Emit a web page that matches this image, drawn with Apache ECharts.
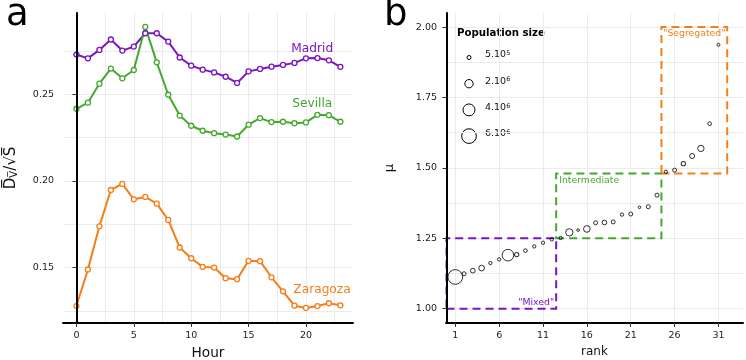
<!DOCTYPE html>
<html>
<head>
<meta charset="utf-8">
<script src="https://cdn.jsdelivr.net/npm/echarts@6/dist/echarts.min.js"></script>
<style>
  html, body { margin: 0; background: #fff; }
  #chart { width: 746px; height: 360px; }
</style>
</head>
<body>
<div id="chart"></div>
<script>
// panel a: hourly values per city
const hours = [0, 1, 2, 3, 4, 5, 6, 7, 8, 9, 10, 11, 12, 13, 14, 15, 16, 17, 18, 19, 20, 21, 22, 23]
const madrid = [0.2730, 0.2708, 0.2757, 0.2817, 0.2753, 0.2776, 0.2853, 0.2853, 0.2805, 0.2713, 0.2666, 0.2643,
  0.2627, 0.2602, 0.2566, 0.2633, 0.2647, 0.2660, 0.2670, 0.2682, 0.2708, 0.2710, 0.2697, 0.2659]
const sevilla = [0.2417, 0.2452, 0.2562, 0.2649, 0.2593, 0.2641, 0.2890, 0.2685, 0.2498, 0.2378, 0.2319, 0.2290,
  0.2276, 0.2268, 0.2257, 0.2325, 0.2363, 0.2340, 0.2342, 0.2334, 0.2338, 0.2382, 0.2380, 0.2342]
const zaragoza = [0.1278, 0.1489, 0.1738, 0.1948, 0.1983, 0.1894, 0.1908, 0.1869, 0.1775, 0.1616, 0.1554, 0.1504,
  0.1500, 0.1439, 0.1433, 0.1539, 0.1537, 0.1444, 0.1363, 0.1280, 0.1267, 0.1278, 0.1294, 0.1282]
const hourTicks = [0, 5, 10, 15, 20]
const hourGrid = [0, 2.5, 5, 7.5, 10, 12.5, 15, 17.5, 20, 22.5]
const dvTicks = [0.15, 0.2, 0.25]
const dvGrid = [0.125, 0.15, 0.175, 0.2, 0.225, 0.25, 0.275]

// panel b: ranked cities
const ranks = [1, 2, 3, 4, 5, 6, 7, 8, 9, 10, 11, 12, 13, 14, 15, 16, 17, 18, 19, 20, 21, 22, 23, 24, 25, 26, 27, 28, 29, 30, 31]
const mu = [1.1125, 1.124, 1.135, 1.144, 1.162, 1.175, 1.190, 1.192, 1.206, 1.221, 1.234, 1.246, 1.251, 1.271, 1.279, 1.283,
  1.305, 1.306, 1.308, 1.334, 1.336, 1.360, 1.362, 1.403, 1.486, 1.492, 1.515, 1.542, 1.569, 1.657, 1.937]
const population = [6.0e6, 5.0e5, 6.7e5, 9.7e5, 3.6e5, 3.6e5, 3.8e6, 5.7e5, 4.3e5, 3.6e5, 3.6e5, 3.6e5, 3.6e5, 1.56e6, 2.4e5, 1.3e6,
  5.0e5, 6.7e5, 5.0e5, 3.6e5, 5.0e5, 2.4e5, 5.0e5, 5.0e5, 3.6e5, 5.0e5, 5.7e5, 7.5e5, 1.18e6, 4.3e5, 3.0e5]
const legendPop = [5e5, 2e6, 4e6, 6e6]
const legendBase = ['5.10', '2.10', '4.10', '6.10']
const legendExp = ['5', '6', '6', '6']
const rankTicks = [1, 6, 11, 16, 21, 26, 31]
const muTicks = [1, 1.25, 1.5, 1.75, 2]
const muGrid = [1, 1.125, 1.25, 1.375, 1.5, 1.625, 1.75, 1.875, 2]
// regime boxes: rank span, mu span
const regimeNames = ['"Mixed"', 'Intermediate', '"Segregated"']
const regimeRank = [[0, 12.5], [12.5, 24.5], [24.5, 32]]
const regimeMu = [[1, 1.25], [1.25, 1.48], [1.48, 2]]

const PURPLE = '#7a14c4'
const GREEN = '#45a82f'
const ORANGE = '#f57e17'
const FONT = 'DejaVu Sans'
const TICK_FONT = 9.5

// ggplot-like area scaling of the circles
const sizeOf = p => 0.00614 * Math.sqrt(p) - 0.34

const chart = echarts.init(document.getElementById('chart'))

const mainAxis = (extra) => Object.assign({
  type: 'value',
  z: 5,
  axisLine: { show: true, lineStyle: { color: '#000', width: 2 } },
  splitLine: { show: false },
  nameTextStyle: { color: '#111', fontFamily: FONT }
}, extra)

const ticks = (values) => ({ show: true, length: 4, lineStyle: { color: '#333' }, customValues: values })
const labels = (values, margin, fmt) => ({
  color: '#222', fontSize: TICK_FONT, fontFamily: FONT, margin, customValues: values, formatter: fmt
})

const gridAxis = (extra) => Object.assign({
  type: 'value',
  z: 0,
  axisLine: { show: false },
  axisLabel: { show: false },
  splitLine: { show: true, lineStyle: { color: '#ebebeb', width: 1 } }
}, extra)

const citySeries = (name, values, color, labelAt) => ({
  name,
  type: 'line',
  xAxisIndex: 0,
  yAxisIndex: 0,
  data: hours.map((h, i) => [h, values[i]]),
  symbol: 'circle',
  symbolSize: 5,
  lineStyle: { color, width: 2 },
  itemStyle: { color: '#fff', borderColor: color, borderWidth: 1.3 },
  z: 3,
  markPoint: {
    silent: true,
    symbol: 'circle',
    symbolSize: 0,
    label: { show: true, formatter: name, color, fontSize: 12.2, fontFamily: FONT },
    data: [{ coord: labelAt }]
  }
})

const option = {
  backgroundColor: '#fff',
  animation: false,
  title: [
    { text: 'a', left: 1, top: -8, textStyle: { fontSize: 37, fontWeight: 'normal', color: '#000', fontFamily: FONT } },
    { text: 'b', left: 379, top: -8, textStyle: { fontSize: 37, fontWeight: 'normal', color: '#000', fontFamily: FONT } }
  ],
  grid: [
    { left: 63, top: 13, width: 290, height: 310, containLabel: false, outerBoundsMode: 'none' },
    { left: 446, top: 13, width: 297, height: 310, containLabel: false, outerBoundsMode: 'none' }
  ],
  xAxis: [
    mainAxis({
      gridIndex: 0, min: -1.17, max: 24.1,
      axisTick: ticks(hourTicks),
      axisLabel: labels(hourTicks, 8),
      name: 'Hour', nameLocation: 'middle', nameGap: 23,
      nameTextStyle: { color: '#111', fontSize: 13.7, fontFamily: FONT }
    }),
    gridAxis({ gridIndex: 0, min: -1.17, max: 24.1, axisTick: { show: false, customValues: hourGrid } }),
    mainAxis({
      gridIndex: 1, min: -0.06, max: 33.8,
      axisTick: ticks(rankTicks),
      axisLabel: labels(rankTicks, 8),
      name: 'rank', nameLocation: 'middle', nameGap: 23,
      nameTextStyle: { color: '#111', fontSize: 12, fontFamily: FONT }
    }),
    gridAxis({ gridIndex: 1, min: -0.06, max: 33.8, axisTick: { show: false, customValues: rankTicks } })
  ],
  yAxis: [
    mainAxis({
      gridIndex: 0, min: 0.118, max: 0.297,
      axisTick: ticks(dvTicks),
      axisLabel: labels(dvTicks, 9, v => v.toFixed(2)),
      name: '{d|D\u0305}{s|V\u0305}{d|/\u221AS\u0305}', nameLocation: 'middle', nameGap: 44, nameRotate: 90,
      nameTextStyle: {
        rich: {
          d: { fontSize: 15, color: '#111', fontFamily: FONT, verticalAlign: 'bottom' },
          s: { fontSize: 10, color: '#111', fontFamily: FONT, verticalAlign: 'bottom' }
        }
      }
    }),
    gridAxis({ gridIndex: 0, min: 0.118, max: 0.297, axisTick: { show: false, customValues: dvGrid } }),
    mainAxis({
      gridIndex: 1, min: 0.949, max: 2.05,
      axisTick: ticks(muTicks),
      axisLabel: labels(muTicks, 9, v => v.toFixed(2)),
      name: '\u03BC', nameLocation: 'middle', nameGap: 50, nameRotate: 90,
      nameTextStyle: { color: '#111', fontSize: 13, fontFamily: FONT }
    }),
    gridAxis({ gridIndex: 1, min: 0.949, max: 2.05, axisTick: { show: false, customValues: muGrid } })
  ],
  series: [
    citySeries('Madrid', madrid, PURPLE, [20.55, 0.2765]),
    citySeries('Sevilla', sevilla, GREEN, [20.55, 0.2446]),
    citySeries('Zaragoza', zaragoza, ORANGE, [21.4, 0.1369]),
    {
      name: 'cities',
      type: 'scatter',
      xAxisIndex: 2,
      yAxisIndex: 2,
      z: 3,
      data: ranks.map((r, i) => [r, mu[i], population[i]]),
      symbol: 'circle',
      symbolSize: d => sizeOf(d[2]),
      itemStyle: { color: 'rgba(0,0,0,0)', borderColor: '#000', borderWidth: 1 },
      markArea: {
        silent: true,
        data: regimeNames.map((n, i) => {
          const color = [PURPLE, GREEN, ORANGE][i]
          const pos = ['insideBottomRight', 'insideTopLeft', 'insideTop'][i]
          return [
            {
              name: n,
              xAxis: regimeRank[i][0], yAxis: regimeMu[i][0],
              itemStyle: { color: 'rgba(0,0,0,0)', borderColor: color, borderWidth: 2, borderType: [8, 5] },
              label: { show: true, position: pos, distance: [3, 4, 3][i], color, fontSize: 9.3, fontFamily: FONT }
            },
            { xAxis: regimeRank[i][1], yAxis: regimeMu[i][1] }
          ]
        })
      }
    }
  ],
  graphic: [
    {
      type: 'text', left: 457, top: 28,
      style: { text: 'Population size', font: 'bold 10.2px "DejaVu Sans"', fill: '#000' }
    },
    ...legendPop.map((p, i) => ({
      type: 'circle',
      shape: { cx: 469, cy: 57.5 + i * 26.2, r: sizeOf(p) / 2 },
      style: { fill: 'none', stroke: '#000', lineWidth: 1 }
    })),
    ...legendPop.map((p, i) => ({
      type: 'text', left: 485, top: 50 + i * 26.2,
      style: {
        text: '{b|' + legendBase[i] + '}{e|' + legendExp[i] + '}',
        rich: {
          b: { fontSize: 9.5, fontFamily: FONT, fill: '#111', verticalAlign: 'bottom' },
          e: { fontSize: 6.5, fontFamily: FONT, fill: '#111', verticalAlign: 'top' }
        }
      }
    }))
  ]
}

chart.setOption(option)
</script>
</body>
</html>
